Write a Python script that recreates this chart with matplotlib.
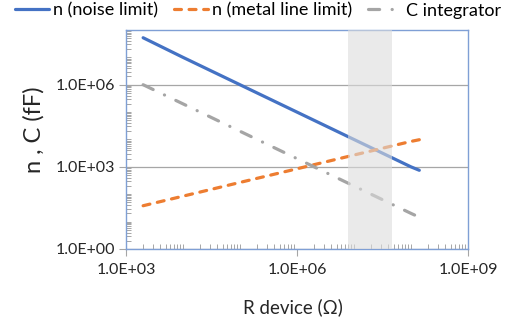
import math
import matplotlib
matplotlib.use("Agg")
import matplotlib.pyplot as plt
from matplotlib.ticker import LogLocator, FixedLocator, FuncFormatter, NullFormatter

plt.rcParams['font.family'] = ['Lato', 'DejaVu Sans']
plt.rcParams['lines.scale_dashes'] = False

# data
r_device = [2.0e3, 1.0e4, 1.0e5, 1.0e6, 1.0e7, 1.0e8, 1.4e8]
n_noise = [5.2e7, 1.0e7, 1.0e6, 1.0e5, 1.0e4, 1.0e3, 7.5e2]
n_metal = [38, 85, 270, 850, 2700, 8500, 9800]
c_integrator = [1.0e6, 2.0e5, 2.0e4, 2.0e3, 2.0e2, 2.0e1, 1.45e1]
band = [7.9e6, 4.6e7]

labels = ["n (noise limit)", "n (metal line limit)", "C integrator"]
x_ticks = [1e3, 1e6, 1e9]
y_ticks = [1e0, 1e3, 1e6]


def sci(v, pos):
    e = int(round(math.log10(v)))
    return "%.1fE+%02d" % (v / 10 ** e, e)


fig = plt.figure(figsize=(5.09, 3.24), dpi=100)
ax = fig.add_axes([0.2475, 0.2315, 0.6719, 0.676])

lw = 2.3
ax.plot(r_device, n_noise, color='#4472C4', lw=lw, solid_capstyle='round', label=labels[0], zorder=3)
ax.plot(r_device, n_metal, color='#ED7D31', lw=lw, dash_capstyle='round',
        linestyle=(0, (5, 5.5)), label=labels[1], zorder=3)
ax.plot(r_device, c_integrator, color='#A5A5A5', lw=lw, dash_capstyle='round',
        linestyle=(0, (8, 9, 0.1, 9)), label=labels[2], zorder=3)

# shaded region sits on top of the lines
ax.axvspan(band[0], band[1], color='#DCDCDC', alpha=0.6, lw=0, zorder=4)

ax.set_xscale('log')
ax.set_yscale('log')
ax.set_xlim(1e3, 1e9)
ax.set_ylim(1e0, 1e8)

ax.xaxis.set_major_locator(FixedLocator(x_ticks))
ax.yaxis.set_major_locator(FixedLocator(y_ticks))
ax.xaxis.set_major_formatter(FuncFormatter(sci))
ax.yaxis.set_major_formatter(FuncFormatter(sci))
ax.xaxis.set_minor_locator(LogLocator(base=10, subs=range(1, 10), numticks=50))
ax.yaxis.set_minor_locator(LogLocator(base=10, subs=range(1, 10), numticks=50))
ax.xaxis.set_minor_formatter(NullFormatter())
ax.yaxis.set_minor_formatter(NullFormatter())

ax.tick_params(which='major', direction='out', length=5, width=0.8, color='#A6A6A6',
               labelsize=11.5, labelcolor='#262626', pad=3)
ax.tick_params(which='minor', direction='in', length=3.5, width=0.7, color='#A6A6A6')
ax.tick_params(axis='x', which='major', pad=5)

ax.grid(axis='y', which='major', color='#A6A6A6', lw=0.9)
ax.set_axisbelow(True)
for s in ax.spines.values():
    s.set_color('#7F9FD5')
    s.set_linewidth(1.0)

fig.text(293 / 509, 1 - 307 / 324, "R device (Ω)", ha='center', va='center', fontsize=13.5, color='#262626')
fig.text(34 / 509, 1 - 130 / 324, "n , C (fF)", ha='center', va='center', rotation=90, fontsize=17, color='#262626')

fig.legend(loc='upper center', bbox_to_anchor=(0.507, 1.02), ncol=3, frameon=False, fontsize=13,
           handlelength=1.9, handletextpad=0.2, columnspacing=0.9, borderaxespad=0.1)

fig.savefig("out.png", dpi=100)
